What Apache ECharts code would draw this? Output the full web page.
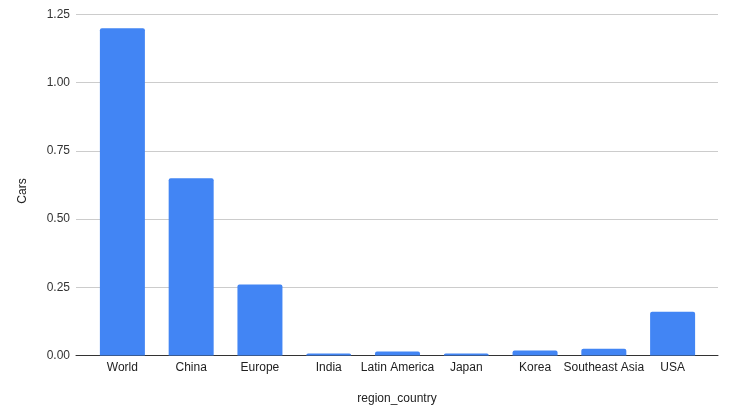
<!DOCTYPE html>
<html><head><meta charset="utf-8">
<script src="https://cdn.jsdelivr.net/npm/echarts@6/dist/echarts.min.js"></script>
<style>html,body{margin:0;padding:0;background:#fff}#c{width:734px;height:418px}</style>
</head><body><div id="c"></div>
<script>
const categories = ['World','China','Europe','India','Latin America','Japan','Korea','Southeast Asia','USA'];
const cars = [1.2, 0.65, 0.26, 0.007, 0.015, 0.007, 0.018, 0.025, 0.16];
const yMin = 0, yMax = 1.25, yStep = 0.25;

const font = '"Liberation Sans", Arial, sans-serif';
const chart = echarts.init(document.getElementById('c'), null, {renderer:'canvas'});
chart.setOption({
  animation:false,
  textStyle:{fontFamily:font},
  grid:[
    {left:76, right:16, top:14.5, bottom:62.5, containLabel:false},
    {left:88, right:27, top:14.5, bottom:62.5, containLabel:false}
  ],
  xAxis:[
    {gridIndex:0, type:'category', data:categories, boundaryGap:true,
     axisLine:{show:true, lineStyle:{color:'#333', width:1}}, axisTick:{show:false}, axisLabel:{show:false},
     splitLine:{show:false},
     name:'region_country', nameLocation:'middle', nameGap:37,
     nameTextStyle:{color:'#222', fontSize:12, fontFamily:font}},
    {gridIndex:1, type:'category', data:categories, boundaryGap:true,
     axisLine:{show:false}, axisTick:{show:false},
     axisLabel:{show:true, color:'#222', fontSize:12, margin:6, interval:0, fontFamily:font},
     splitLine:{show:false}}
  ],
  yAxis:[
    {gridIndex:0, type:'value', min:yMin, max:yMax, interval:yStep,
     axisLine:{show:false}, axisTick:{show:false},
     axisLabel:{color:'#333', fontSize:12, margin:6, fontFamily:font, formatter:v=>v.toFixed(2)},
     splitLine:{lineStyle:{color:'#cccccc', width:1}},
     name:'Cars', nameLocation:'middle', nameGap:47, nameRotate:90,
     nameTextStyle:{color:'#222', fontSize:12, fontFamily:font, padding:[0,12,0,0]}},
    {gridIndex:1, type:'value', min:yMin, max:yMax, interval:yStep, show:false, splitLine:{show:false}}
  ],
  series:[{
    type:'bar', xAxisIndex:1, yAxisIndex:1, data:cars, barWidth:45,
    itemStyle:{color:'#4285f4', borderRadius:[2,2,0,0]}
  }]
});
</script></body></html>
